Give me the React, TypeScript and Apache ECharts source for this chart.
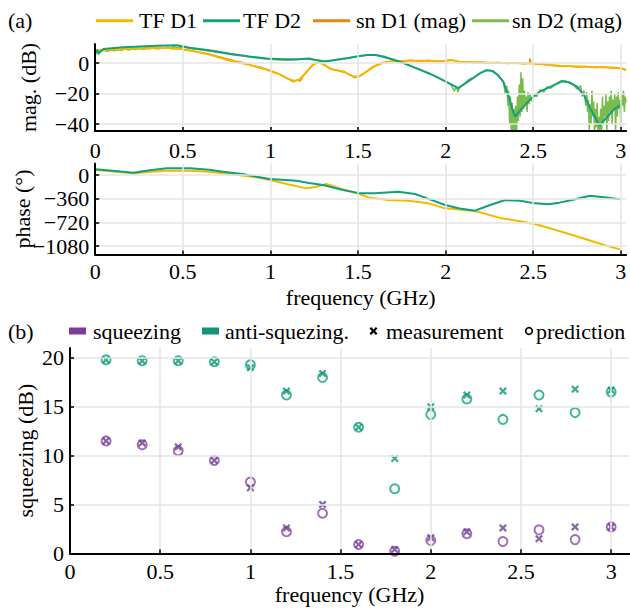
import React, { useEffect, useRef } from "react";
import * as echarts from "echarts";

const FONT = "Liberation Serif";
const FONT_CSS = `#root svg text { font-family: "Liberation Serif", "Times New Roman", serif !important; }`;

// ---- tick values ----
const freqTicks = [0, 0.5, 1, 1.5, 2, 2.5, 3];
const magTicks = [-40, -20, 0];
const phaseTicks = [-1080, -720, -360, 0];
const sqzTicks = [0, 5, 10, 15, 20];

// ---- legend / axis texts ----
const legendA = ["TF D1", "TF D2", "sn D1 (mag)", "sn D2 (mag)"];
const legendB = ["squeezing", "anti-squezing.", "measurement", "prediction"];

// ---- panel (a): magnitude (dB) vs frequency (GHz) ----
const tfD1Mag: number[][] = [[0,7.0],[0.01,8.3],[0.05,8.4],[0.1,8.7],[0.2,9.3],[0.3,9.7],[0.4,9.9],[0.48,9.3],[0.55,8.0],[0.65,5.5],[0.77,1.5],[0.88,-1.2],[0.98,-4.4],[1.06,-7.8],[1.1,-10.2],[1.135,-11.8],[1.165,-10.8],[1.2,-6.5],[1.245,-0.8],[1.28,0.4],[1.32,-2.2],[1.36,-4.5],[1.42,-5.6],[1.47,-8.8],[1.51,-8.6],[1.55,-5.5],[1.59,-2.2],[1.64,0.0],[1.7,1.1],[1.8,1.4],[1.9,1.4],[1.99,1.2],[2.04,1.9],[2.08,0.8],[2.2,0.4],[2.35,0.0],[2.5,-0.3],[2.65,-1.8],[2.8,-2.5],[2.95,-3.0],[3.0,-3.4],[3.03,-4.4]];
const tfD2Mag: number[][] = [[0,6.0],[0.008,8.7],[0.018,6.5],[0.046,9.2],[0.16,10.3],[0.35,11.3],[0.465,11.6],[0.54,10.0],[0.65,8.3],[0.77,6.0],[0.88,4.2],[0.98,3.0],[1.08,2.4],[1.15,2.5],[1.22,2.9],[1.26,2.0],[1.31,1.0],[1.37,2.0],[1.43,3.0],[1.5,4.4],[1.55,5.2],[1.6,5.3],[1.626,4.6],[1.69,2.6],[1.76,0.0],[1.82,-2.9],[1.91,-7.0],[2.0,-12.0],[2.04,-14.5],[2.072,-16.4],[2.11,-13.5],[2.158,-9.8],[2.2,-6.5],[2.234,-4.8],[2.27,-5.3],[2.3,-8.0],[2.33,-12.5],[2.36,-22.0],[2.38,-30.0],[2.396,-35.0],[2.43,-30.5],[2.463,-26.2],[2.5,-22.0],[2.539,-18.6],[2.6,-15.5],[2.665,-12.0],[2.71,-12.8],[2.748,-15.3],[2.79,-21.0],[2.824,-29.5],[2.855,-36.0],[2.878,-40.9],[2.92,-35.5],[2.96,-30.5],[2.995,-27.7]];
const snD1Mag: number[][] = [[0,7.5],[0.02,8.0],[0.05,8.6],[0.08,8.2],[0.1,8.9],[0.13,8.5],[0.16,9.2],[0.2,8.9],[0.24,9.5],[0.28,9.2],[0.32,9.8],[0.36,9.4],[0.4,9.9],[0.44,9.3],[0.48,9.5],[0.52,8.4],[0.56,7.9],[0.6,6.8],[0.65,5.9],[0.7,4.3],[0.75,2.8],[0.8,1.2],[0.85,0.2],[0.9,-1.9],[0.95,-3.0],[1.0,-5.0],[1.04,-6.6],[1.08,-9.2],[1.11,-10.8],[1.13,-12.3],[1.15,-11.2],[1.17,-11.8],[1.19,-8.0],[1.22,-4.2],[1.25,-0.6],[1.28,0.6],[1.31,-1.2],[1.34,-3.8],[1.38,-4.8],[1.42,-6.0],[1.45,-7.5],[1.48,-9.5],[1.5,-8.9],[1.53,-7.2],[1.56,-4.8],[1.6,-1.8],[1.64,0.3],[1.68,0.8],[1.72,1.6],[1.76,1.0],[1.8,1.8],[1.85,1.2],[1.9,1.7],[1.95,1.0],[2.0,1.5],[2.03,2.2],[2.05,1.4],[2.08,0.5],[2.12,0.9],[2.16,0.2],[2.2,0.6],[2.25,-0.2],[2.3,0.3],[2.35,-0.4],[2.4,0.2],[2.45,-0.5],[2.478,0.1],[2.482,2.8],[2.486,0.0],[2.52,-0.6],[2.56,-0.9],[2.6,-1.5],[2.65,-2.2],[2.7,-1.9],[2.75,-2.6],[2.8,-2.3],[2.85,-2.9],[2.9,-2.6],[2.95,-3.3],[3.0,-3.6],[3.03,-4.8]];
const snD2Mag: number[][] = [[0,5.0],[0.01,8.0],[0.02,5.5],[0.03,7.5],[0.05,8.3],[0.07,7.6],[0.09,8.8],[0.11,7.9],[0.13,9.1],[0.15,8.2],[0.17,9.4],[0.19,8.5],[0.21,9.6],[0.23,8.8],[0.25,9.9],[0.27,9.0],[0.29,10.1],[0.31,9.2],[0.33,10.3],[0.35,9.5],[0.37,10.4],[0.39,9.6],[0.41,10.5],[0.43,9.8],[0.45,10.6],[0.47,10.0],[0.5,10.4],[0.55,9.4],[0.6,8.6],[0.65,7.9],[0.7,6.8],[0.75,6.1],[0.8,5.0],[0.85,4.5],[0.9,3.6],[0.95,3.0],[1.0,2.4],[1.05,2.0],[1.1,1.8],[1.15,2.2],[1.2,2.7],[1.25,2.2],[1.3,1.2],[1.35,1.6],[1.4,2.8],[1.45,3.5],[1.5,4.2],[1.55,5.0],[1.6,5.3],[1.65,4.4],[1.7,2.0],[1.75,0.4],[1.8,-2.0],[1.85,-4.0],[1.9,-6.6],[1.95,-9.2],[2.0,-12.4],[2.03,-14.0],[2.05,-18.5],[2.06,-15.2],[2.07,-19.0],[2.08,-15.8],[2.1,-14.5],[2.13,-11.0],[2.16,-9.5],[2.2,-6.4],[2.23,-4.5],[2.26,-5.0],[2.29,-7.2],[2.31,-10.0],[2.33,-12.0],[2.34,-20.0],[2.35,-15.0],[2.355,-28.0],[2.36,-18.0],[2.365,-40.0],[2.37,-22.0],[2.375,-48.0],[2.38,-26.0],[2.385,-50.0],[2.39,-30.0],[2.395,-45.0],[2.4,-28.0],[2.405,-48.0],[2.41,-22.0],[2.415,-38.0],[2.42,-14.0],[2.425,-35.0],[2.43,-6.0],[2.435,-32.0],[2.44,-10.0],[2.445,-30.0],[2.45,-18.0],[2.455,-28.0],[2.46,-22.0],[2.465,-32.0],[2.47,-19.0],[2.475,-27.0],[2.48,-20.0],[2.49,-25.0],[2.5,-20.5],[2.52,-22.0],[2.54,-17.5],[2.56,-19.0],[2.58,-15.5],[2.6,-16.5],[2.63,-13.5],[2.66,-11.5],[2.69,-12.0],[2.71,-13.5],[2.73,-14.5],[2.75,-17.0],[2.77,-15.0],[2.78,-22.0],[2.79,-18.0],[2.8,-28.0],[2.805,-19.0],[2.81,-32.0],[2.815,-24.0],[2.82,-45.0],[2.825,-27.0],[2.83,-40.0],[2.835,-18.0],[2.84,-35.0],[2.845,-25.0],[2.85,-48.0],[2.855,-30.0],[2.86,-42.0],[2.865,-26.0],[2.87,-50.0],[2.875,-35.0],[2.88,-45.0],[2.885,-30.0],[2.89,-48.0],[2.895,-22.0],[2.9,-40.0],[2.905,-28.0],[2.91,-35.0],[2.915,-20.0],[2.92,-45.0],[2.925,-25.0],[2.93,-38.0],[2.935,-22.0],[2.94,-32.0],[2.945,-18.0],[2.95,-40.0],[2.955,-24.0],[2.96,-30.0],[2.965,-20.0],[2.97,-45.0],[2.975,-22.0],[2.98,-35.0],[2.985,-19.0],[2.99,-30.0],[2.995,-24.0],[3.0,-42.0],[3.005,-20.0],[3.01,-28.0],[3.015,-18.0],[3.02,-32.0],[3.025,-22.0],[3.03,-26.0]];

// ---- panel (a): phase (deg) ----
const tfD1Phase: number[][] = [[0,76],[0.1,55],[0.218,25],[0.3,45],[0.408,66],[0.541,66],[0.65,50],[0.731,25],[0.85,-10],[0.921,-35],[0.997,-76],[1.1,-140],[1.205,-203],[1.25,-185],[1.32,-137],[1.415,-218],[1.51,-289],[1.559,-340],[1.673,-380],[1.787,-391],[1.9,-431],[1.997,-507],[2.08,-525],[2.168,-548],[2.32,-659],[2.4,-690],[2.51,-745],[2.663,-862],[2.815,-989],[2.9,-1060],[2.995,-1131]];
const tfD2Phase: number[][] = [[0,86],[0.1,65],[0.218,35],[0.3,70],[0.408,101],[0.541,101],[0.65,80],[0.731,51],[0.85,10],[0.921,-25],[0.997,-61],[1.149,-86],[1.22,-120],[1.3,-152],[1.415,-228],[1.51,-279],[1.597,-279],[1.73,-254],[1.825,-289],[1.91,-370],[1.997,-456],[2.08,-510],[2.168,-542],[2.25,-460],[2.34,-380],[2.426,-391],[2.51,-431],[2.587,-446],[2.65,-420],[2.72,-380],[2.824,-315],[2.929,-345],[2.995,-370]];

// ---- panel (b): squeezing ----
const sqzFreq = [0.2, 0.4, 0.6, 0.8, 1.0, 1.2, 1.4, 1.6, 1.8, 2.0, 2.2, 2.4, 2.6, 2.8, 3.0];
const sqzMeas = [11.5, 11.3, 10.9, 9.5, 6.7, 2.6, 5.0, 0.9, 0.4, 1.6, 2.2, 2.6, 1.5, 2.7, 2.7];
const sqzPred = [11.5, 11.1, 10.5, 9.5, 7.3, 2.2, 4.1, 0.9, 0.2, 1.3, 2.0, 1.2, 2.4, 1.4, 2.7];
const antiMeas = [19.8, 19.7, 19.7, 19.6, 19.0, 16.6, 18.4, 12.9, 9.7, 15.0, 16.2, 16.6, 14.8, 16.8, 16.7];
const antiPred = [19.8, 19.7, 19.7, 19.6, 19.3, 16.2, 18.0, 12.9, 6.6, 14.2, 15.8, 13.7, 16.2, 14.4, 16.5];

const C_TF1 = "#f5b800";
const C_TF2 = "#13a07c";
const C_SN1 = "#e8870e";
const C_SN2 = "#7bbb4b";
const C_PURPLE = "#7b3e96";
const C_GREEN = "#15937a";
const C_SQ_MEAS = "#6b4190";
const C_SQ_PRED = "#8e4aa8";
const C_AN_MEAS = "#13937a";
const C_AN_PRED = "#11a77f";
const GRID_C = "#e4e4e4";

const XPTS = [[2,0],[5,3],[8,0],[10,2],[7,5],[10,8],[8,10],[5,7],[2,10],[0,8],[3,5],[0,2]];
const XSYM = "path://M" + XPTS.map((p) => p.join(",")).join(" L") + " Z";

const fmt = (v: number) => String(v).replace("-", "\u2212");

function xAxisCfg(gridIndex: number, max: number) {
  return {
    type: "value",
    gridIndex,
    min: 0,
    max,
    z: 10,
    splitLine: { show: false },
    axisLine: { show: true, onZero: false, lineStyle: { color: "#000", width: 2 } },
    axisTick: { show: true, inside: true, length: 4, customValues: freqTicks, lineStyle: { color: "#000", width: 1.5 } },
    axisLabel: { show: false },
  };
}

function yAxisCfg(gridIndex: number, min: number, max: number, ticks: number[]) {
  return {
    type: "value",
    gridIndex,
    min,
    max,
    z: 10,
    splitLine: { show: false },
    axisLine: { show: true, onZero: false, lineStyle: { color: "#000", width: 2 } },
    axisTick: { show: true, inside: true, length: 4, customValues: ticks, lineStyle: { color: "#000", width: 1.5 } },
    axisLabel: { show: false },
  };
}

function gridLines(idx: number, xs: number[], ys: number[]) {
  return {
    type: "line",
    name: "_grid" + idx,
    xAxisIndex: idx,
    yAxisIndex: idx,
    data: [[xs[0], ys[0]]],
    showSymbol: false,
    silent: true,
    z: 1,
    lineStyle: { opacity: 0 },
    markLine: {
      silent: true,
      symbol: ["none", "none"],
      label: { show: false },
      animation: false,
      lineStyle: { color: GRID_C, width: 1.5, type: "solid" },
      data: [...xs.map((x) => ({ xAxis: x })), ...ys.map((y) => ({ yAxis: y }))],
    },
  };
}

const lineSeries = (name: string, idx: number, data: number[][], color: string, width: number, z: number) => ({
  type: "line",
  name,
  xAxisIndex: idx,
  yAxisIndex: idx,
  data,
  showSymbol: false,
  symbol: "none",
  z,
  itemStyle: { color },
  lineStyle: { color, width },
});

const scatterSeries = (name: string, ys: number[], color: string, isPred: boolean) => ({
  type: "scatter",
  name,
  xAxisIndex: 2,
  yAxisIndex: 2,
  data: sqzFreq.map((f, i) => [f, ys[i]]),
  symbol: isPred ? "circle" : XSYM,
  symbolSize: isPred ? 9 : 8,
  z: 4,
  itemStyle: isPred
    ? { color: "rgba(0,0,0,0)", borderColor: color, borderWidth: 2 }
    : { color },
});

const txt = (text: string, x: number, y: number, align: string, verticalAlign: string, rotation = 0) => ({
  type: "text",
  x,
  y,
  rotation,
  silent: true,
  z: 20,
  style: { text, fontFamily: FONT, fontSize: 22, fill: "#000", align, verticalAlign },
});

export default function App() {
  const ref = useRef<HTMLDivElement>(null);
  useEffect(() => {
    document.body.style.margin = "0";
    if (!ref.current) return;
    const chart = echarts.init(ref.current, undefined, { renderer: "svg" });
    const axesDef = [
      { xMax: 3.03, yMin: -44.5, yMax: 12.5, yTicks: magTicks, xMargin: 8, yName: "mag. (dB)", yGap: 56, xName: "", xGap: 0 },
      { xMax: 3.03, yMin: -1210, yMax: 175, yTicks: phaseTicks, xMargin: 6, yName: "phase (\u00b0)", yGap: 62, xName: "frequency (GHz)", xGap: 32 },
      { xMax: 3.1, yMin: 0, yMax: 21, yTicks: sqzTicks, xMargin: 7, yName: "squeezing (dB)", yGap: 34, xName: "frequency (GHz)", xGap: 30 },
    ];
    const option: any = {
      animation: false,
      backgroundColor: "#fff",
      grid: [
        { left: 95.2, top: 43.9, width: 530.9, height: 87.1, containLabel: false, outerBoundsMode: "none" },
        { left: 95.2, top: 163.5, width: 530.9, height: 91.1, containLabel: false, outerBoundsMode: "none" },
        { left: 70, top: 348.1, width: 559.2, height: 205.2, containLabel: false, outerBoundsMode: "none" },
      ],
      xAxis: axesDef.map((a, i) => xAxisCfg(i, a.xMax)),
      yAxis: axesDef.map((a, i) => yAxisCfg(i, a.yMin, a.yMax, a.yTicks)),
      series: [
        gridLines(0, freqTicks.slice(1), magTicks),
        gridLines(1, freqTicks.slice(1), phaseTicks),
        gridLines(2, freqTicks.slice(1), sqzTicks.slice(1)),
        lineSeries("sn D1 (mag)", 0, snD1Mag, C_SN1, 1.5, 2),
        lineSeries("sn D2 (mag)", 0, snD2Mag, C_SN2, 1.5, 2),
        lineSeries("TF D1", 0, tfD1Mag, C_TF1, 2, 3),
        lineSeries("TF D2", 0, tfD2Mag, C_TF2, 2, 3),
        lineSeries("TF D1", 1, tfD1Phase, C_TF1, 2, 3),
        lineSeries("TF D2", 1, tfD2Phase, C_TF2, 2, 3),
        scatterSeries("squeezing prediction", sqzPred, C_SQ_PRED, true),
        scatterSeries("anti-squeezing prediction", antiPred, C_AN_PRED, true),
        scatterSeries("squeezing measurement", sqzMeas, C_SQ_MEAS, false),
        scatterSeries("anti-squeezing measurement", antiMeas, C_AN_MEAS, false),
      ],
    };
    chart.setOption(option);

    // texts (tick labels, axis names, legends) placed through the chart's own scales
    const g: any[] = [];
    axesDef.forEach((a, i) => {
      const px = (v: number[]) => chart.convertToPixel({ gridIndex: i } as any, v) as number[];
      freqTicks.forEach((t) => {
        const p = px([t, a.yMin]);
        g.push(txt(fmt(t), p[0], p[1] + a.xMargin, "center", "top"));
      });
      a.yTicks.forEach((t) => {
        const p = px([0, t]);
        g.push(txt(fmt(t), p[0] - 6, p[1], "right", "middle"));
      });
      const c = px([a.xMax / 2, (a.yMin + a.yMax) / 2]);
      const o = px([0, a.yMin]);
      g.push(txt(a.yName, o[0] - a.yGap, c[1], "center", "bottom", Math.PI / 2));
      if (a.xName) g.push(txt(a.xName, c[0], o[1] + a.xGap, "center", "top"));
    });

    // panel labels
    g.push(txt("(a)", 8, 20.7, "left", "middle"));
    g.push(txt("(b)", 8, 331, "left", "middle"));

    // legend (a)
    const legA = [
      { x: 96, tx: 139, c: C_TF1 },
      { x: 203, tx: 243, c: C_TF2 },
      { x: 313, tx: 356, c: C_SN1 },
      { x: 472, tx: 512, c: C_SN2 },
    ];
    legA.forEach((l, i) => {
      g.push({ type: "rect", silent: true, z: 20, shape: { x: l.x, y: 19.2, width: 37, height: 3 }, style: { fill: l.c } });
      g.push(txt(legendA[i], l.tx, 20.7, "left", "middle"));
    });

    // legend (b)
    const ly = 331;
    g.push({ type: "rect", silent: true, z: 20, shape: { x: 69, y: ly - 3.5, width: 17, height: 7 }, style: { fill: C_PURPLE } });
    g.push(txt(legendB[0], 93, ly, "left", "middle"));
    g.push({ type: "rect", silent: true, z: 20, shape: { x: 202, y: ly - 3.5, width: 17, height: 7 }, style: { fill: C_GREEN } });
    g.push(txt(legendB[1], 225, ly, "left", "middle"));
    g.push({
      type: "polygon",
      silent: true,
      z: 20,
      shape: { points: XPTS.map((p) => [369.5 + p[0] * 0.8, ly - 4 + p[1] * 0.8]) },
      style: { fill: "#000" },
    });
    g.push(txt(legendB[2], 386, ly, "left", "middle"));
    g.push({ type: "circle", silent: true, z: 20, shape: { cx: 529, cy: ly, r: 3.3 }, style: { fill: "none", stroke: "#000", lineWidth: 1.6 } });
    g.push(txt(legendB[3], 536, ly, "left", "middle"));

    chart.setOption({ graphic: g });
    return () => chart.dispose();
  }, []);
  return (
    <>
      <style>{FONT_CSS}</style>
      <div ref={ref} style={{ width: 630, height: 608 }} />
    </>
  );
}
